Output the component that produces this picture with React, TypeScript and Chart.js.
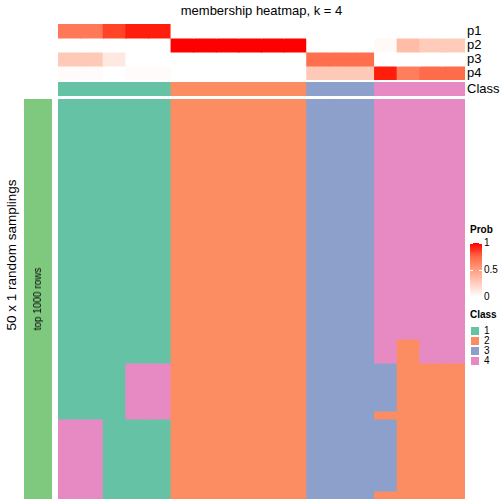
import React, { useEffect, useRef } from "react";
import { Chart, registerables } from "chart.js";

Chart.register(...registerables);

// ---------- data ----------
const TITLE = "membership heatmap, k = 4";
const ROW_TITLE = "50 x 1 random samplings";
const SIDE_LABEL = "top 1000 rows";
const COLUMN_IDS = ["s1", "s2", "s3", "s4", "s5", "s6", "s7", "s8", "s9", "s10", "s11", "s12", "s13", "s14", "s15", "s16", "s17", "s18"];
const ANNO_NAMES = ["p1", "p2", "p3", "p4"];
const P1 = [0.68, 0.68, 0.88, 0.97, 0.97, 0, 0, 0, 0, 0, 0, 0, 0, 0, 0, 0, 0, 0];
const P2 = [0, 0, 0, 0, 0, 1, 1, 1, 1, 1, 1, 0, 0, 0, 0.03, 0.35, 0.27, 0.27];
const P3 = [0.28, 0.28, 0.12, 0, 0, 0, 0, 0, 0, 0, 0, 0.72, 0.72, 0.72, 0, 0, 0, 0];
const P4 = [0.02, 0.02, 0, 0.02, 0.02, 0, 0, 0, 0, 0, 0, 0.28, 0.28, 0.28, 0.97, 0.65, 0.73, 0.73];
const CLASS_TOP = [1, 1, 1, 1, 1, 2, 2, 2, 2, 2, 2, 3, 3, 3, 4, 4, 4, 4];
// 50 sampling rows, one class digit per column
const CLASS_ROWS = [
  "111112222223334444", "111112222223334444", "111112222223334444", "111112222223334444", "111112222223334444",
  "111112222223334444", "111112222223334444", "111112222223334444", "111112222223334444", "111112222223334444",
  "111112222223334444", "111112222223334444", "111112222223334444", "111112222223334444", "111112222223334444",
  "111112222223334444", "111112222223334444", "111112222223334444", "111112222223334444", "111112222223334444",
  "111112222223334444", "111112222223334444", "111112222223334444", "111112222223334444", "111112222223334444",
  "111112222223334444", "111112222223334444", "111112222223334444", "111112222223334444", "111112222223334444",
  "111112222223334244", "111112222223334244", "111112222223334244",
  "111442222223333222", "111442222223333222", "111442222223333222", "111442222223333222", "111442222223333222",
  "111442222223333222",
  "111442222223332222",
  "441112222223333222", "441112222223333222", "441112222223333222", "441112222223333222", "441112222223333222",
  "441112222223333222", "441112222223333222", "441112222223333222", "441112222223333222",
  "441112222223332222",
];
const CLASS_LEVELS = ["1", "2", "3", "4"];
const PROB_TICKS = ["1", "0.5", "0"];

// ---------- styles ----------
const CLASS_COLORS = ["#66C2A5", "#FC8D62", "#8DA0CB", "#E78AC3"];
const SIDE_COLOR = "#7FC97F";
const FONT = "'Liberation Sans', Arial, Helvetica, sans-serif";

function labToRgb(L: number, a: number, b: number): string {
  const fy = (L + 16) / 116;
  const fx = fy + a / 500;
  const fz = fy - b / 200;
  const d = 6 / 29;
  const finv = (t: number) => (t > d ? t * t * t : 3 * d * d * (t - 4 / 29));
  const X = 0.95047 * finv(fx);
  const Y = finv(fy);
  const Z = 1.08883 * finv(fz);
  const r = 3.2404542 * X - 1.5371385 * Y - 0.4985314 * Z;
  const g = -0.969266 * X + 1.8760108 * Y + 0.041556 * Z;
  const bl = 0.0556434 * X - 0.2040259 * Y + 1.0572252 * Z;
  const gam = (c: number) => {
    const v = c <= 0.0031308 ? 12.92 * c : 1.055 * Math.pow(c, 1 / 2.4) - 0.055;
    return Math.round(Math.min(1, Math.max(0, v)) * 255);
  };
  return `rgb(${gam(r)},${gam(g)},${gam(bl)})`;
}
function probColor(v: number): string {
  return labToRgb(100 - (100 - 53.24) * v, 80.09 * v, 67.2 * v);
}

type DS = { data: number[][]; backgroundColor: string[] };

function Grid(props: { left: number; top: number; width: number; height: number; labels: string[]; datasets: DS[]; yMax: number }) {
  const ref = useRef<HTMLCanvasElement>(null);
  const { left, top, width, height, labels, datasets, yMax } = props;
  useEffect(() => {
    const chart = new Chart(ref.current as HTMLCanvasElement, {
      type: "bar",
      data: {
        labels,
        datasets: datasets.map((d) => ({
          data: d.data as any,
          backgroundColor: d.backgroundColor,
          grouped: false,
          barPercentage: 1,
          categoryPercentage: 1,
          borderWidth: 0,
          inflateAmount: 0.5,
        })) as any,
      },
      options: {
        animation: false,
        responsive: false,
        maintainAspectRatio: false,
        events: [],
        layout: { padding: 0 },
        plugins: { legend: { display: false }, tooltip: { enabled: false }, title: { display: false } },
        scales: {
          x: { type: "category", display: false },
          y: { type: "linear", display: false, min: 0, max: yMax, reverse: true },
        },
      },
    });
    return () => chart.destroy();
  }, []);
  return <canvas ref={ref} width={width} height={height} style={{ position: "absolute", left, top, width, height }} />;
}

const txt = (extra: React.CSSProperties): React.CSSProperties => ({
  position: "absolute",
  whiteSpace: "nowrap",
  fontFamily: FONT,
  color: "#000",
  ...extra,
});

export default function App() {
  const HX = 58;
  const HW = 407;
  const probArrays = [P1, P2, P3, P4];
  const probDatasets: DS[] = probArrays.map((arr, k) => ({
    data: COLUMN_IDS.map(() => [k, k + 1]),
    backgroundColor: arr.map(probColor),
  }));
  const classDataset: DS[] = [
    { data: COLUMN_IDS.map(() => [0, 1]), backgroundColor: CLASS_TOP.map((c) => CLASS_COLORS[c - 1]) },
  ];
  const mainDatasets: DS[] = CLASS_ROWS.map((row, r) => ({
    data: COLUMN_IDS.map(() => [r, r + 1]),
    backgroundColor: row.split("").map((ch) => CLASS_COLORS[Number(ch) - 1]),
  }));
  const sideDataset: DS[] = [{ data: [[0, 1]], backgroundColor: [SIDE_COLOR] }];

  const gradStops = [0, 0.25, 0.5, 0.75, 1].map((v) => `${probColor(v)} ${v * 100}%`).join(", ");
  const rowNames = [...ANNO_NAMES, "Class"];
  const rowCenters = [31, 45, 59, 73, 89];

  return (
    <div style={{ position: "absolute", left: 0, top: 0, width: 504, height: 504, background: "#fff", overflow: "hidden" }}>
      <div style={txt({ left: HX, width: HW, top: 3, fontSize: 13, lineHeight: "16px", textAlign: "center" })}>{TITLE}</div>

      <Grid left={HX} top={24} width={HW} height={56} labels={COLUMN_IDS} datasets={probDatasets} yMax={4} />
      <Grid left={HX} top={82} width={HW} height={14} labels={COLUMN_IDS} datasets={classDataset} yMax={1} />
      <Grid left={HX} top={99} width={HW} height={400} labels={COLUMN_IDS} datasets={mainDatasets} yMax={CLASS_ROWS.length} />
      <Grid left={24} top={99} width={28} height={400} labels={[SIDE_LABEL]} datasets={sideDataset} yMax={1} />

      {rowNames.map((n, i) => (
        <div key={n} style={txt({ left: 467, top: rowCenters[i] - 8, fontSize: 13, lineHeight: "16px" })}>{n}</div>
      ))}

      <div style={txt({ left: 12, top: 255, fontSize: 13.5, lineHeight: "16px", transform: "translate(-50%,-50%) rotate(-90deg)" })}>{ROW_TITLE}</div>
      <div style={txt({ left: 38, top: 299, fontSize: 10, lineHeight: "12px", transform: "translate(-50%,-50%) rotate(-90deg)" })}>{SIDE_LABEL}</div>

      {/* Prob legend */}
      <div style={txt({ left: 470, top: 224, fontSize: 10, lineHeight: "12px", fontWeight: "bold" })}>Prob</div>
      <div style={{ position: "absolute", left: 470, top: 243, width: 12, height: 54, background: `linear-gradient(to top, ${gradStops})` }} />
      {[243, 270].map((y) => (
        <React.Fragment key={y}>
          <div style={{ position: "absolute", left: 470, top: y, width: 3, height: 1, background: "#fff" }} />
          <div style={{ position: "absolute", left: 479, top: y, width: 3, height: 1, background: "#fff" }} />
        </React.Fragment>
      ))}
      {PROB_TICKS.map((t, i) => (
        <div key={t} style={txt({ left: 484, top: 243 + i * 27 - 6, fontSize: 10, lineHeight: "12px" })}>{t}</div>
      ))}

      {/* Class legend */}
      <div style={txt({ left: 470, top: 309, fontSize: 10, lineHeight: "12px", fontWeight: "bold" })}>Class</div>
      {CLASS_LEVELS.map((c, i) => (
        <React.Fragment key={c}>
          <div style={{ position: "absolute", left: 470, top: 326 + i * 10, width: 10, height: 10, boxSizing: "border-box", border: "1px solid #fff", background: CLASS_COLORS[i] }} />
          <div style={txt({ left: 484, top: 326 + i * 10 - 1, fontSize: 10, lineHeight: "12px" })}>{c}</div>
        </React.Fragment>
      ))}
    </div>
  );
}
